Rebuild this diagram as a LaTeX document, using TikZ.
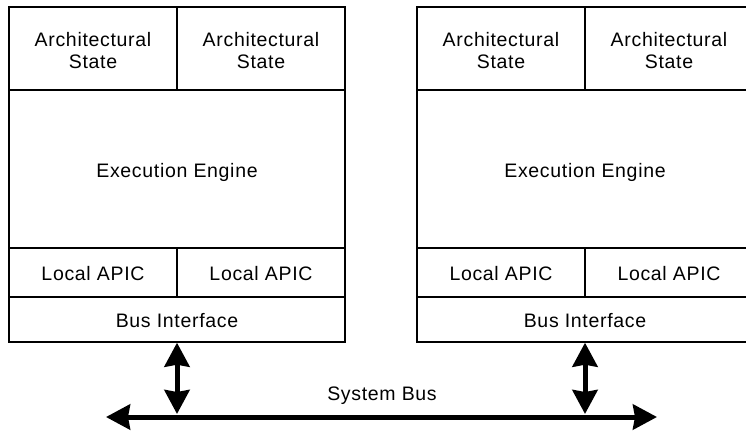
\documentclass[tikz,border=0pt]{standalone}
\usepackage{fontspec}
\setmainfont{Liberation Sans}[LetterSpace=3.5]
\usetikzlibrary{arrows.meta}

\begin{document}
\begin{tikzpicture}[x = 1pt, y = -1pt, font = {\fontsize{19.5pt}{22.5pt}\selectfont},
	cell/.style = {draw, line width = 1.4pt, inner sep = 0pt, align = center, text height = 16pt, text depth = 0pt},
	twoline/.style = {text height = 40.4pt},
	bus/.style = {line width = 5pt, {Stealth[length = 24pt, width = 25pt, inset = 2pt]}-{Stealth[length = 24pt, width = 25pt, inset = 2pt]}}]
\useasboundingbox (0,0) rectangle (746,432);

\begin{scope}
\node[cell, twoline, minimum width = 168pt, minimum height = 83pt] (archL1) at (93, 48.5) {Architectural \\ State};
\node[cell, twoline, minimum width = 168pt, minimum height = 83pt] (archL2) at (261, 48.5) {Architectural \\ State};
\node[cell, minimum width = 336pt, minimum height = 158pt] (execL) at (177, 169) {Execution Engine};
\node[cell, minimum width = 168pt, minimum height = 49pt] (apicL1) at (93, 272.5) {Local APIC};
\node[cell, minimum width = 168pt, minimum height = 49pt] (apicL2) at (261, 272.5) {Local APIC};
\node[cell, minimum width = 336pt, minimum height = 45pt] (busifL) at (177, 319.5) {Bus Interface};
\end{scope}

\begin{scope}[xshift = 408pt]
\node[cell, twoline, minimum width = 168pt, minimum height = 83pt] (archR1) at (93, 48.5) {Architectural \\ State};
\node[cell, twoline, minimum width = 168pt, minimum height = 83pt] (archR2) at (261, 48.5) {Architectural \\ State};
\node[cell, minimum width = 336pt, minimum height = 158pt] (execR) at (177, 169) {Execution Engine};
\node[cell, minimum width = 168pt, minimum height = 49pt] (apicR1) at (93, 272.5) {Local APIC};
\node[cell, minimum width = 168pt, minimum height = 49pt] (apicR2) at (261, 272.5) {Local APIC};
\node[cell, minimum width = 336pt, minimum height = 45pt] (busifR) at (177, 319.5) {Bus Interface};
\end{scope}

\coordinate (busW) at (106, 417);
\coordinate (busE) at (657, 417);
\node (sysbus) at (382, 396) {System Bus};

\draw[bus] (busW) -- (busE);
\draw[bus, shorten > = 3pt] (busifL.south) -- (busifL.south |- busW);
\draw[bus, shorten > = 3pt] (busifR.south) -- (busifR.south |- busW);
\end{tikzpicture}
\end{document}
